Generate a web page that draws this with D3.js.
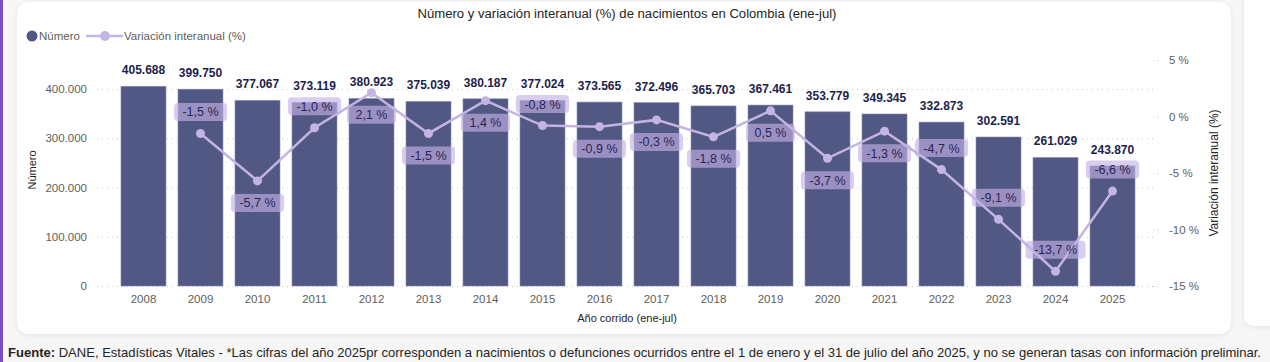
<!DOCTYPE html>
<html>
<head>
<meta charset="utf-8">
<script src="https://cdn.jsdelivr.net/npm/d3@7"></script>
<style>
  html, body { margin: 0; padding: 0; background: #f6f6f6; }
  svg { display: block; }
  text { font-family: 'Segoe UI', 'Liberation Sans', 'DejaVu Sans', sans-serif; }
</style>
</head>
<body>
<svg id="chart" width="1270" height="362"></svg>
<script>
// ---- data ----
const years = ["2008","2009","2010","2011","2012","2013","2014","2015","2016","2017","2018","2019","2020","2021","2022","2023","2024","2025"];
const births = [405688,399750,377067,373119,380923,375039,380187,377024,373565,372496,365703,367461,353779,349345,332873,302591,261029,243870];
const variation = [null,-1.5,-5.7,-1.0,2.1,-1.5,1.4,-0.8,-0.9,-0.3,-1.8,0.5,-3.7,-1.3,-4.7,-9.1,-13.7,-6.6];
const labelSide = [null,"above","below","above","below","below","below","above","below","below","below","below","below","below","above","above","above","above"];
const leftTicks = [0,100000,200000,300000,400000];
const rightTicks = [-15,-10,-5,0,5];
const title = "Número y variación interanual (%) de nacimientos en Colombia (ene-jul)";
const footerBold = "Fuente:";
const footerText = " DANE, Estadísticas Vitales - *Las cifras del año 2025pr corresponden a nacimientos o defunciones ocurridos entre el 1 de enero y el 31 de julio del año 2025, y no se generan tasas con información preliminar.";

// ---- style ----
const navy = "#515883";
const lav = "#c3b4e4";
const gray = "#605e5c";
const dark = "#252423";

const fmtInt = v => d3.format(",")(v).replace(/,/g, ".");
const fmtPct = v => v.toFixed(1).replace(".", ",") + " %";

const svg = d3.select("#chart");
const defs = svg.append("defs");
const f = defs.append("filter").attr("id","sh").attr("x","-5%").attr("y","-5%").attr("width","110%").attr("height","115%");
f.append("feDropShadow").attr("dx",0).attr("dy",1).attr("stdDeviation",2).attr("flood-color","#000").attr("flood-opacity",0.08);

// background panels
svg.append("rect").attr("x",1244).attr("y",-20).attr("width",60).attr("height",346).attr("rx",10).attr("fill","#fff").attr("filter","url(#sh)");
svg.append("rect").attr("x",17).attr("y",2).attr("width",1214).attr("height",332).attr("rx",12).attr("fill","#fff").attr("filter","url(#sh)");
svg.append("rect").attr("x",0).attr("y",0).attr("width",3).attr("height",362).attr("fill","#7b4dc2");

// scales
const x = d3.scaleBand().domain(years).range([115,1141]).paddingInner(0.2105).paddingOuter(0.105);
const yL = d3.scaleLinear().domain([0,459000]).range([286,60]);
const yR = d3.scaleLinear().domain([-15,5]).range([286,60]);

// title
const tt = svg.append("text").attr("x",627).attr("y",18).attr("text-anchor","middle")
  .attr("font-size",13).attr("fill",dark).text(title);
tt.attr("font-size", 13 * 419 / tt.node().getComputedTextLength());

// legend
const lg = svg.append("g").attr("font-size",11.5).attr("fill",gray);
lg.append("circle").attr("cx",32).attr("cy",36).attr("r",5.5).attr("fill",navy);
lg.append("text").attr("x",39).attr("y",40).text("Número");
lg.append("line").attr("x1",86).attr("x2",123).attr("y1",36).attr("y2",36).attr("stroke",lav).attr("stroke-width",2.5);
lg.append("circle").attr("cx",105).attr("cy",36).attr("r",5).attr("fill",lav);
lg.append("text").attr("x",124).attr("y",40).text("Variación interanual (%)");

// left axis with gridlines
const axL = svg.append("g").attr("transform","translate(97,0)")
  .call(d3.axisLeft(yL).tickValues(leftTicks).tickFormat(fmtInt).tickSize(0).tickPadding(10));
axL.select(".domain").remove();
axL.selectAll("text").attr("font-size",11.5).attr("fill",gray).attr("font-family","'Segoe UI','Liberation Sans',sans-serif");
const grid = svg.append("g").attr("transform","translate(97,0)")
  .call(d3.axisRight(yL).tickValues(leftTicks).tickFormat("").tickSize(1060));
grid.select(".domain").remove();
grid.selectAll("line").attr("stroke","#c8c8c8").attr("stroke-dasharray","1,4");

// right axis
const axR = svg.append("g").attr("transform","translate(1153,0)")
  .call(d3.axisRight(yR).tickValues(rightTicks).tickFormat(d => d + " %").tickSize(7).tickPadding(9));
axR.select(".domain").remove();
axR.selectAll("line").attr("stroke","#c8c8c8").attr("stroke-dasharray","1,3");
axR.selectAll("text").attr("font-size",11.5).attr("fill",gray).attr("font-family","'Segoe UI','Liberation Sans',sans-serif");

// x axis
const axX = svg.append("g").attr("transform","translate(0,286)")
  .call(d3.axisBottom(x).tickSize(0).tickPadding(9));
axX.select(".domain").remove();
axX.selectAll("text").attr("font-size",11.5).attr("fill",gray).attr("font-family","'Segoe UI','Liberation Sans',sans-serif");

// axis titles
svg.append("text").attr("x",627).attr("y",322).attr("text-anchor","middle").attr("font-size",11).attr("fill",dark).text("Año corrido (ene-jul)");
svg.append("text").attr("transform","translate(36,170) rotate(-90)").attr("text-anchor","middle").attr("font-size",11).attr("fill",dark).text("Número");
svg.append("text").attr("transform","translate(1218,173) rotate(-90)").attr("text-anchor","middle").attr("font-size",12).attr("fill",dark).text("Variación interanual (%)");

// bars
const data = years.map((y,i) => ({year:y, n:births[i], v:variation[i], side:labelSide[i]}));
svg.append("g").selectAll("rect").data(data).join("rect")
  .attr("x", d => x(d.year)).attr("width", x.bandwidth())
  .attr("y", d => yL(d.n)).attr("height", d => yL(0) - yL(d.n))
  .attr("fill", navy).attr("stroke","#8a8fb0").attr("stroke-width",0.6);

// bar labels
svg.append("g").selectAll("text").data(data).join("text")
  .attr("x", d => x(d.year) + x.bandwidth()/2).attr("y", d => yL(d.n) - 12)
  .attr("text-anchor","middle").attr("font-size",12).attr("font-weight","bold").attr("fill","#1b1e4c")
  .text(d => fmtInt(d.n));

// line
const pts = data.filter(d => d.v !== null);
const cx = d => x(d.year) + x.bandwidth()/2;
svg.append("path").datum(pts)
  .attr("d", d3.line().x(cx).y(d => yR(d.v)))
  .attr("fill","none").attr("stroke",lav).attr("stroke-width",2.5);
svg.append("g").selectAll("circle").data(pts).join("circle")
  .attr("cx", cx).attr("cy", d => yR(d.v)).attr("r",4.5).attr("fill",lav);

// percent labels
const pl = svg.append("g").selectAll("g").data(pts).join("g")
  .attr("transform", d => `translate(${cx(d)},${yR(d.v) + (d.side === "above" ? -21.5 : 22)})`);
pl.append("text").attr("text-anchor","middle").attr("dy","0.36em")
  .attr("font-size",12.5).attr("fill","#2b2553").text(d => fmtPct(d.v));
pl.each(function() {
  const g = d3.select(this);
  const w = g.select("text").node().getComputedTextLength() + 17;
  g.insert("rect","text").attr("x",-w/2).attr("y",-9).attr("width",w).attr("height",18).attr("rx",4)
    .attr("fill","rgb(195,179,230)").attr("fill-opacity",0.64);
});

// footer
const ft = svg.append("text").attr("x",8).attr("y",357).attr("font-size",13).attr("fill",dark);
ft.append("tspan").attr("font-weight","bold").text(footerBold);
ft.append("tspan").text(footerText);
const fw = ft.node().getComputedTextLength();
ft.attr("font-size", 13 * 1254 / fw);
</script>
</body>
</html>
